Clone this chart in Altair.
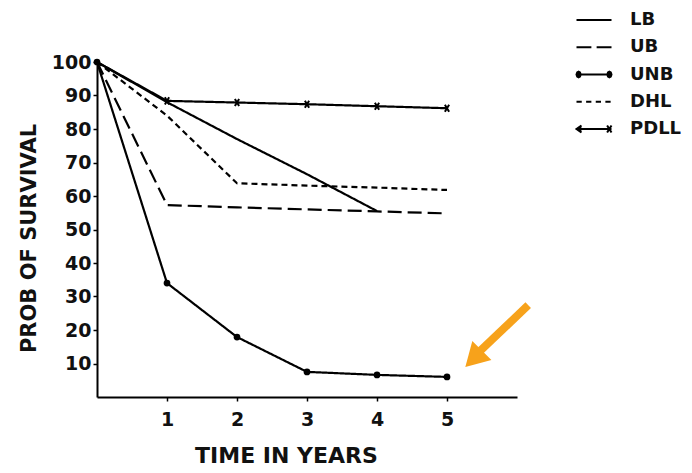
import altair as alt
import pandas as pd

# ---- data ----
years = [0, 1, 2, 3, 4, 5]
lb = [100, 88, 77, 66.5, 55.5]          # LB ends at year 4
ub = [100, 57.3, 56.6, 56.0, 55.4, 54.8]
unb = [100, 34, 17.9, 7.5, 6.6, 6.0]
dhl = [100, 84, 63.8, 63.1, 62.5, 61.8]
pdll = [100, 88.4, 87.9, 87.4, 86.8, 86.2]

series_names = ["LB", "UB", "UNB", "DHL", "PDLL"]
series_values = [lb, ub, unb, dhl, pdll]

x_ticks = [1, 2, 3, 4, 5]
y_ticks = [10, 20, 30, 40, 50, 60, 70, 80, 90, 100]

# orange annotation arrow (data units)
arrow_tail_x = [6.16]
arrow_tail_y = [27.4]
arrow_base_x = [5.47]
arrow_base_y = [13.7]
arrow_tip_center_x = [5.38]
arrow_tip_center_y = [11.4]

# ---- tables ----
rows = []
for name, vals in zip(series_names, series_values):
    for t, v in zip(years, vals):
        rows.append({"series": name, "year": t, "prob": v})
df = pd.DataFrame(rows)

legend_df = pd.DataFrame({"key": series_names})

arrow_df = pd.DataFrame({"year": arrow_tail_x, "prob": arrow_tail_y,
                         "year2": arrow_base_x, "prob2": arrow_base_y})
head_df = pd.DataFrame({"year": arrow_tip_center_x, "prob": arrow_tip_center_y})

FONT = "DejaVu Sans"
ORANGE = "#F7A21B"

dash_range = [[1, 0], [14, 6], [1, 0], [6, 4], [1, 0]]

x_axis = alt.Axis(values=x_ticks, title="TIME IN YEARS", format="d", titleX=189)
y_axis = alt.Axis(values=y_ticks, title="PROB OF SURVIVAL", format="d",
                  labelOverlap=False, titleY=176)
x_scale = alt.Scale(domain=[0, 6], nice=False, zero=True)
y_scale = alt.Scale(domain=[0, 100], nice=False)


def X():
    return alt.X("year:Q", scale=x_scale, axis=x_axis)


def Y():
    return alt.Y("prob:Q", scale=y_scale, axis=y_axis)


lines = alt.Chart(df).mark_line(color="black", strokeWidth=2.2, clip=False).encode(
    x=X(), y=Y(),
    detail="series:N",
    strokeDash=alt.StrokeDash("series:N",
                              scale=alt.Scale(domain=series_names, range=dash_range),
                              legend=None),
)

unb_points = alt.Chart(df).transform_filter(alt.datum.series == "UNB").mark_point(
    filled=True, color="black", size=45, opacity=1
).encode(x=X(), y=Y())

pdll_points = alt.Chart(df).transform_filter(
    (alt.datum.series == "PDLL") & (alt.datum.year > 0)
).mark_point(
    shape="M-0.6,-1L0.6,1M-0.6,1L0.6,-1", filled=False, color="black",
    size=50, strokeWidth=2, opacity=1
).encode(x=X(), y=Y())

arrow_line = alt.Chart(arrow_df).mark_rule(color=ORANGE, strokeWidth=8, strokeCap="butt").encode(
    x=X(), y=Y(), x2="year2:Q", y2="prob2:Q"
)
arrow_head = alt.Chart(head_df).mark_point(
    shape="triangle-up", filled=True, color=ORANGE, size=729, angle=225, opacity=1
).encode(x=X(), y=Y())

main = alt.layer(lines, unb_points, pdll_points, arrow_line, arrow_head)

# ---- hand-built legend (key symbols as custom paths) ----
legend_paths = [
    "M-1,0H1",
    "M-1,0H-0.15M0.15,0H1",
    "M-1,0H1M-0.96,-0.12L-0.88,-0.16L-0.8,-0.12L-0.76,0L-0.8,0.12L-0.88,0.16L-0.96,0.12L-1,0Z"
    "M0.8,-0.12L0.88,-0.16L0.96,-0.12L1,0L0.96,0.12L0.88,0.16L0.8,0.12L0.76,0Z",
    "M-1,0H-0.7M-0.45,0H-0.15M0.1,0H0.4M0.65,0H0.95",
    "M-1,0H1M-0.72,-0.2L-1,0L-0.72,0.2M0.75,-0.2L1,0.2M0.75,0.2L1,-0.2",
]
leg_y = alt.Y("key:N", scale=alt.Scale(type="point", domain=series_names,
                                       range=[-42, 67], padding=0), axis=None)

legend_symbols = alt.Chart(legend_df).mark_point(
    filled=True, fill="black", stroke="black", strokeWidth=2, size=1225, opacity=1
).encode(
    x=alt.value(497),
    y=leg_y,
    shape=alt.Shape("key:N", scale=alt.Scale(domain=series_names, range=legend_paths),
                    legend=None),
)
legend_text = alt.Chart(legend_df).mark_text(
    align="left", baseline="middle", font=FONT, fontSize=18, fontWeight="bold",
    color="#111"
).encode(x=alt.value(533), y=leg_y, text="key:N")

legend = alt.layer(legend_symbols, legend_text)

chart = alt.layer(main, legend).resolve_scale(y="independent", shape="independent").properties(
    width=420, height=335,
    autosize=alt.AutoSizeParams(type="none"),
    padding={"left": 89, "top": 54, "right": 167, "bottom": 76},
    background="white",
).configure_view(stroke=None).configure_axis(
    grid=False, domainColor="black", domainWidth=2, tickColor="black", tickWidth=1.5,
    tickSize=4, labelFont=FONT, labelFontSize=19, labelFontWeight="bold",
    labelColor="#111", titleFont=FONT, titleFontWeight="bold", titleColor="#111",
).configure_axisX(
    labelPadding=9, titleFontSize=22, titlePadding=16,
).configure_axisY(
    labelPadding=2, titleFontSize=21, titlePadding=12, labelOverlap=False,
)

chart.save("out.html", embed_options={"renderer": "svg", "actions": False})
